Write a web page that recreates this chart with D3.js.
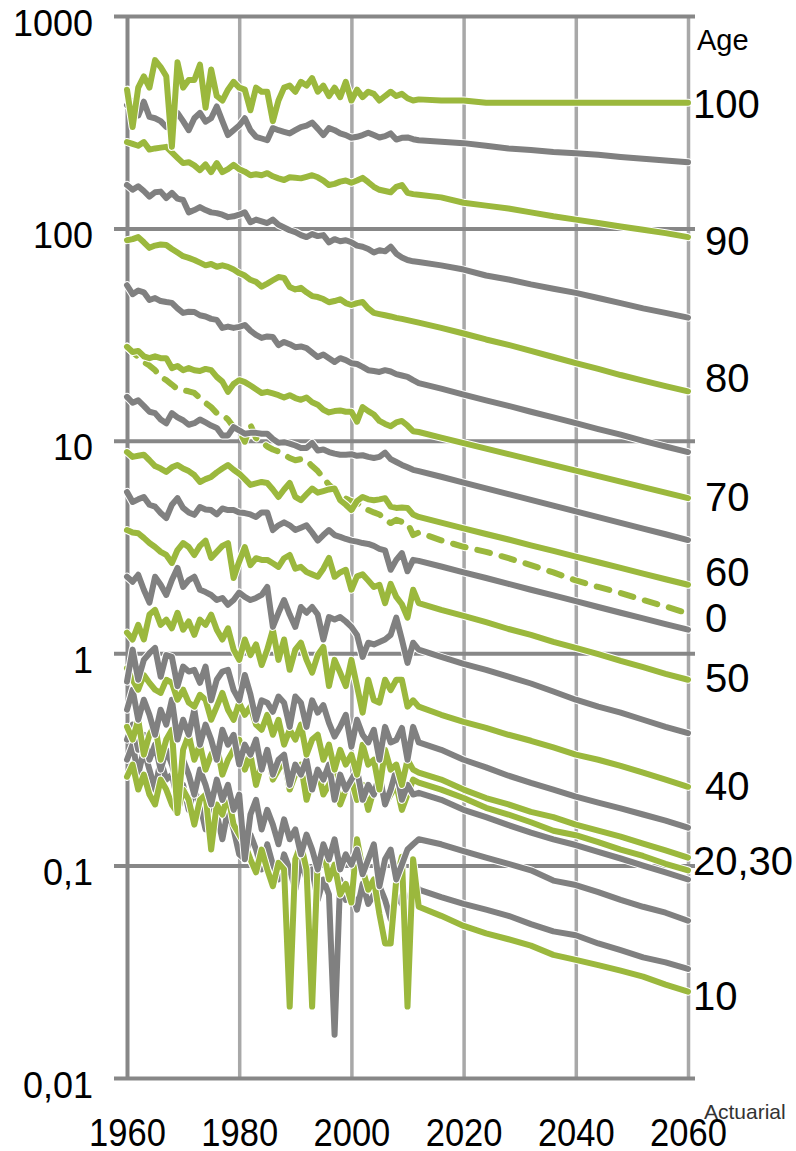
<!DOCTYPE html>
<html>
<head>
<meta charset="utf-8">
<script src="https://cdn.jsdelivr.net/npm/d3@7"></script>
<style>
  body { margin: 0; background: #fff; }
  svg { display: block; font-family: "Liberation Sans", Arial, sans-serif; }
</style>
</head>
<body>
<div id="chart"></div>
<script>
// observed years 1960-2012, then the projection every 4 years
const years = [
  1960, 1961, 1962, 1963, 1964, 1965, 1966, 1967, 1968, 1969,
  1970, 1971, 1972, 1973, 1974, 1975, 1976, 1977, 1978, 1979,
  1980, 1981, 1982, 1983, 1984, 1985, 1986, 1987, 1988, 1989,
  1990, 1991, 1992, 1993, 1994, 1995, 1996, 1997, 1998, 1999,
  2000, 2001, 2002, 2003, 2004, 2005, 2006, 2007, 2008, 2009,
  2010, 2011, 2012,
  2016, 2020, 2024, 2028, 2032, 2036, 2040, 2044, 2048, 2052, 2056, 2060
];

const yearTicks = [1960, 1980, 2000, 2020, 2040, 2060];
const yTicks = [0.01, 0.1, 1, 10, 100, 1000];
const yTickLabels = ["0,01", "0,1", "1", "10", "100", "1000"];

// mortality per 1000, by age
const age0 = [
  27.7, 26.2, 24.8, 23.5, 22.6, 21.5, 20, 19.3, 18.4, 17.5,
  17.3, 17.1, 16.8, 15.9, 15.1, 14.4, 13.5, 13.3, 12.6, 11.6,
  11.1, 9.9, 11.9, 10.3, 9.9, 9.4, 9.1, 8.9, 8.6, 8.3,
  8.1, 8.2, 8.1, 7.6, 7.2, 6.7, 6.2, 5.9, 5.6, 5.35,
  5.2, 5.1, 4.9, 4.72, 4.6, 4.5, 4.25, 4.1, 4.25, 4.15,
  4.1, 3.6, 3.7,
  3.4, 3.17, 3.0, 2.8, 2.6, 2.4, 2.2, 2.05, 1.92, 1.78, 1.66, 1.54
];
const age5 = [
  0.315, 0.371, 0.268, 0.351, 0.283, 0.228, 0.315, 0.254, 0.268, 0.204,
  0.24, 0.183, 0.228, 0.194, 0.148, 0.204, 0.174, 0.133, 0.183, 0.148,
  0.113, 0.107, 0.14, 0.119, 0.096, 0.126, 0.101, 0.086, 0.113, 0.096,
  0.0773, 0.107, 0.086, 0.096, 0.069, 0.086, 0.073, 0.016, 0.086, 0.069,
  0.077, 0.062, 0.082, 0.066, 0.073, 0.08, 0.069, 0.056, 0.073, 0.066,
  0.06, 0.086, 0.077,
  0.071, 0.066, 0.062, 0.058, 0.053, 0.049, 0.047, 0.043, 0.04, 0.037, 0.035, 0.0326
];
const age10 = [
  0.262, 0.299, 0.228, 0.268, 0.216, 0.194, 0.254, 0.228, 0.194, 0.177,
  0.228, 0.204, 0.156, 0.204, 0.216, 0.119, 0.194, 0.174, 0.216, 0.156,
  0.14, 0.126, 0.107, 0.093, 0.119, 0.096, 0.08, 0.103, 0.096, 0.0217,
  0.107, 0.126, 0.096, 0.0217, 0.107, 0.119, 0.086, 0.101, 0.073, 0.082,
  0.067, 0.133, 0.096, 0.077, 0.086, 0.059, 0.043, 0.043, 0.086, 0.11,
  0.0217, 0.107, 0.064,
  0.058, 0.052, 0.048, 0.045, 0.042, 0.038, 0.036, 0.034, 0.032, 0.03, 0.0275, 0.0255
];
const age15 = [
  0.392, 0.461, 0.351, 0.413, 0.315, 0.371, 0.283, 0.351, 0.299, 0.24,
  0.315, 0.268, 0.216, 0.283, 0.24, 0.194, 0.254, 0.204, 0.24, 0.183,
  0.216, 0.107, 0.174, 0.204, 0.148, 0.183, 0.156, 0.126, 0.165, 0.133,
  0.148, 0.113, 0.14, 0.119, 0.096, 0.126, 0.107, 0.133, 0.096, 0.113,
  0.101, 0.119, 0.091, 0.107, 0.126, 0.08, 0.107, 0.119, 0.086, 0.101,
  0.119, 0.126, 0.133,
  0.126, 0.117, 0.109, 0.102, 0.095, 0.085, 0.081, 0.075, 0.069, 0.064, 0.06, 0.055
];
const age20 = [
  0.45, 0.392, 0.486, 0.333, 0.413, 0.461, 0.315, 0.392, 0.436, 0.177,
  0.351, 0.413, 0.315, 0.371, 0.283, 0.333, 0.371, 0.268, 0.315, 0.351,
  0.392, 0.283, 0.333, 0.24, 0.299, 0.351, 0.254, 0.283, 0.315, 0.228,
  0.268, 0.299, 0.204, 0.254, 0.283, 0.216, 0.24, 0.268, 0.194, 0.228,
  0.254, 0.204, 0.24, 0.183, 0.228, 0.254, 0.194, 0.216, 0.24, 0.183,
  0.216, 0.254, 0.246,
  0.228, 0.208, 0.187, 0.174, 0.16, 0.146, 0.139, 0.129, 0.119, 0.111, 0.102, 0.095
];
const age25 = [
  0.542, 0.673, 0.486, 0.604, 0.513, 0.413, 0.542, 0.461, 0.604, 0.392,
  0.486, 0.413, 0.542, 0.371, 0.461, 0.392, 0.315, 0.436, 0.371, 0.413,
  0.299, 0.371, 0.333, 0.392, 0.283, 0.351, 0.268, 0.315, 0.333, 0.24,
  0.299, 0.268, 0.315, 0.228, 0.283, 0.254, 0.299, 0.204, 0.268, 0.228,
  0.254, 0.283, 0.204, 0.24, 0.216, 0.268, 0.194, 0.228, 0.283, 0.204,
  0.24, 0.216, 0.22,
  0.204, 0.183, 0.169, 0.155, 0.143, 0.133, 0.125, 0.116, 0.108, 0.1, 0.093, 0.086
];
const age30 = [
  0.85, 0.75, 0.673, 0.79, 0.725, 0.673, 0.65, 0.75, 0.725, 0.604,
  0.673, 0.585, 0.56, 0.637, 0.604, 0.486, 0.56, 0.65, 0.542, 0.486,
  0.585, 0.513, 0.56, 0.461, 0.436, 0.513, 0.413, 0.486, 0.371, 0.436,
  0.392, 0.461, 0.333, 0.392, 0.413, 0.315, 0.371, 0.283, 0.351, 0.299,
  0.333, 0.268, 0.371, 0.299, 0.315, 0.228, 0.351, 0.283, 0.299, 0.24,
  0.315, 0.283, 0.274,
  0.254, 0.228, 0.208, 0.194, 0.179, 0.169, 0.156, 0.146, 0.137, 0.127, 0.118, 0.109
];
const age35 = [
  0.735, 1.04, 0.75, 0.93, 1.0, 1.06, 0.775, 0.98, 0.96, 0.7,
  0.865, 0.82, 0.835, 0.725, 0.865, 0.6, 0.75, 0.82, 0.835, 0.67,
  0.6, 0.79, 0.64, 0.486, 0.6, 0.585, 0.53, 0.625, 0.585, 0.45,
  0.625, 0.585, 0.45, 0.6, 0.525, 0.57, 0.47, 0.405, 0.45, 0.513,
  0.363, 0.486, 0.413, 0.38, 0.436, 0.315, 0.45, 0.38, 0.39, 0.445,
  0.315, 0.45, 0.38,
  0.351, 0.315, 0.29, 0.265, 0.245, 0.228, 0.211, 0.198, 0.186, 0.174, 0.163, 0.151
];
const age40 = [
  1.25, 1.16, 1.36, 1.16, 1.52, 1.6, 1.36, 1.44, 1.31, 1.55,
  1.29, 1.41, 1.22, 1.44, 1.36, 1.52, 1.29, 1.16, 1.31, 1.04,
  0.93, 1.16, 0.98, 1.1, 0.88, 1.04, 1.29, 0.93, 1.16, 0.835,
  1.04, 1.12, 0.93, 0.81, 0.98, 1.07, 0.7, 0.93, 0.81, 0.7,
  0.93, 0.7, 0.525, 0.75, 0.6, 0.585, 0.75, 0.67, 0.75, 0.75,
  0.56, 0.6, 0.56,
  0.513, 0.475, 0.445, 0.413, 0.387, 0.36, 0.333, 0.315, 0.295, 0.274, 0.254, 0.235
];
const age45 = [
  2.29, 2.17, 2.34, 1.99, 1.73, 2.29, 2.1, 1.88, 2.21, 2.52,
  2.05, 2.21, 2.29, 1.99, 1.94, 1.88, 1.78, 1.82, 1.69, 1.78,
  1.93, 1.84, 1.78, 1.82, 1.88, 2.05, 1.33, 1.55, 1.78, 1.52,
  1.33, 1.65, 1.55, 1.65, 1.52, 1.16, 1.48, 1.44, 1.48, 1.41,
  1.33, 1.22, 0.96, 1.12, 1.1, 1.13, 1.16, 1.22, 1.47, 1.16,
  0.9, 1.12, 1.04,
  0.96, 0.89, 0.835, 0.775, 0.72, 0.66, 0.604, 0.56, 0.525, 0.486, 0.45, 0.42
];
const age50 = [
  3.8, 3.7, 3.67, 3.49, 3.3, 3.16, 3.0, 2.9, 2.66, 3.06,
  3.3, 3.16, 2.9, 3.2, 3.39, 2.81, 3.0, 3.2, 3.3, 2.26,
  2.7, 3.16, 2.6, 2.8, 2.75, 2.75, 2.65, 2.55, 2.8, 2.9,
  2.5, 2.55, 2.41, 2.35, 2.29, 2.5, 2.81, 2.29, 2.4, 2.47,
  1.99, 2.3, 2.35, 2.2, 2.05, 2.1, 1.72, 2.12, 1.84, 1.7,
  1.47, 1.99, 1.72,
  1.6, 1.5, 1.4, 1.3, 1.22, 1.13, 1.06, 0.99, 0.92, 0.86, 0.8, 0.75
];
const age55 = [
  5.74, 5.15, 5.3, 5.44, 5.0, 4.9, 4.57, 4.33, 5.0, 5.37,
  4.83, 4.6, 4.48, 4.88, 4.75, 4.72, 4.5, 4.8, 4.72, 4.72,
  4.6, 4.57, 4.5, 4.38, 4.6, 4.6, 3.8, 4.0, 4.13, 4.0,
  3.8, 3.9, 4.0, 3.7, 3.39, 3.6, 3.8, 3.6, 3.53, 3.45,
  3.39, 3.35, 3.3, 3.27, 3.2, 3.1, 3.05, 2.47, 2.75, 2.96,
  2.43, 2.75, 2.72,
  2.56, 2.4, 2.26, 2.12, 1.99, 1.87, 1.76, 1.65, 1.55, 1.46, 1.37, 1.29
];
const age60 = [
  8.85, 8.4, 8.5, 8.6, 8.1, 7.6, 7.4, 7.14, 7.5, 7.7,
  7.4, 7.2, 6.9, 6.4, 6.6, 6.76, 7.1, 7.4, 7.69, 7.3,
  7.0, 6.6, 6.2, 6.3, 6.4, 6.33, 5.9, 5.44, 5.9, 6.33,
  5.44, 5.25, 5.6, 5.96, 5.7, 5.8, 5.9, 5.96, 5.25, 5.0,
  4.72, 5.2, 5.44, 5.3, 5.25, 5.3, 5.37, 4.9, 4.83, 4.85,
  4.83, 4.5, 4.38,
  4.12, 3.87, 3.64, 3.43, 3.22, 3.03, 2.85, 2.68, 2.52, 2.37, 2.23, 2.1
];
const age65 = [
  16.1, 15.1, 15.5, 14.6, 13.7, 13.5, 12.6, 12.1, 13.5, 12.9,
  12.5, 11.9, 12.1, 12.6, 12.2, 11.8, 11.5, 10.6, 10.6, 11.6,
  11.2, 10.8, 10.9, 10.9, 10.8, 10.8, 10.2, 9.8, 9.85, 9.7,
  9.5, 9.25, 9.25, 9.77, 9.0, 9.1, 8.85, 8.7, 8.6, 8.6,
  8.65, 8.5, 8.55, 8.4, 8.3, 8.4, 8.8, 8.2, 7.95, 7.7,
  7.5, 7.3, 7.2,
  6.77, 6.36, 5.97, 5.61, 5.27, 4.95, 4.65, 4.37, 4.11, 3.86, 3.63, 3.41
];
const age70 = [
  27.7, 26.2, 26.5, 25, 24.5, 25, 24.5, 24.5, 22, 22.5,
  21.5, 22, 21.5, 21.3, 21.8, 21.5, 20, 19, 17, 18.5,
  19.3, 18.9, 18.2, 17.5, 16.8, 17, 16.7, 16.4, 16, 16.4,
  15.9, 15.6, 16, 15.2, 14.8, 14, 13.6, 13.8, 13.9, 13.7,
  13.7, 12.3, 14.4, 13.8, 13.3, 12.4, 12, 11.7, 12.2, 12.4,
  11.8, 11.1, 11,
  10.36, 9.76, 9.19, 8.66, 8.16, 7.68, 7.24, 6.82, 6.42, 6.05, 5.7, 5.37
];
const age75 = [
  54, 49, 51, 50, 46, 47, 45.5, 45, 44.6, 42,
  40, 40.5, 40.4, 39, 38.5, 37.5, 37.1, 34, 34.5, 34,
  34.4, 35.1, 33, 31.5, 30.5, 31, 30.8, 28.2, 29.2, 28.5,
  27.6, 27.8, 27.3, 26, 24.8, 25.5, 24.5, 23.5, 24.5, 24,
  23.2, 23, 22.3, 21.5, 21.3, 21.1, 21.5, 21.2, 20.6, 20.3,
  20, 19.3, 18.7,
  17.6, 16.5, 15.5, 14.6, 13.7, 12.9, 12.1, 11.35, 10.7, 10.0, 9.4, 8.85
];
const age80 = [
  88, 89, 91, 86, 81, 83, 84, 83.5, 80, 77,
  74, 72.6, 71, 69, 67, 68, 66, 67, 65.9, 64,
  61.6, 60, 57.3, 56, 53.2, 55, 57, 59, 58.5, 53,
  51.6, 52.5, 50, 48, 47.5, 46.5, 44.9, 45.5, 46.4, 44.5,
  43.6, 44.5, 45, 42, 40, 39.5, 39, 38.5, 37.9, 37.5,
  37, 36.5, 36,
  34, 32, 30, 28.3, 26.5, 24.8, 23.2, 21.8, 20.4, 19.2, 18.1, 17.1
];
const age85 = [
  160, 152, 158, 150, 141, 148, 149, 139, 147, 138,
  136, 119, 122, 126, 122, 119, 118, 116, 113, 114,
  116, 119, 107, 110, 108, 106, 110, 104, 101, 98,
  96, 93, 91, 94, 92, 93, 86, 89, 87, 88,
  86, 83, 82, 80, 77, 79, 78, 82, 76, 73,
  71, 70, 69.5,
  67, 64, 60, 57.5, 54.5, 52, 49.7, 47, 44.5, 42, 40, 38
];
const age90 = [
  255, 250, 245, 255, 235, 238, 240, 242, 228, 215,
  203, 205, 198, 188, 200, 184, 203, 184, 190, 199,
  190, 185, 178, 180, 178, 182, 176, 172, 169, 174,
  173, 172, 175, 178, 174, 168, 160, 162, 166, 168,
  164, 168, 173, 165, 157, 152, 150, 148, 157, 160,
  147, 145, 144,
  140, 132, 128, 124, 119, 114, 110, 106, 102, 98.5, 95, 91
];
const age95 = [
  380, 395, 340, 395, 335, 330, 320, 300, 315, 350,
  320, 290, 330, 350, 318, 330, 375, 320, 275, 290,
  305, 330, 290, 270, 265, 260, 297, 290, 285, 280,
  290, 300, 305, 315, 295, 275, 297, 290, 280, 275,
  267, 270, 275, 282, 275, 268, 272, 280, 262, 267,
  268, 263, 260,
  256, 252, 245, 238, 234, 229, 226, 222, 217, 213, 209, 205
];
const age100 = [
  450, 300, 460, 520, 460, 620, 575, 520, 242, 605,
  460, 500, 500, 590, 370, 560, 420, 400, 450, 490,
  460, 450, 360, 460, 440, 440, 320, 400, 460, 470,
  440, 490, 470, 510, 440, 470, 420, 460, 415, 490,
  400, 450, 415, 440, 430, 400, 420, 440, 420, 430,
  410, 400, 405,
  400, 400, 390, 390, 390, 390, 390, 390, 390, 390, 390, 390
];

const ages = [0, 5, 10, 15, 20, 25, 30, 35, 40, 45, 50, 55, 60, 65, 70, 75, 80, 85, 90, 95, 100];
const ageValues = [age0, age5, age10, age15, age20, age25, age30, age35, age40, age45,
  age50, age55, age60, age65, age70, age75, age80, age85, age90, age95, age100];

// labels on the right, and the mortality level each one sits at
const labelTexts = ["100", "90", "80", "70", "60", "0", "50", "40", "20,30", "10"];
const labelLevels = [385, 87.2, 19.8, 5.44, 2.41, 1.465, 0.764, 0.237, 0.106, 0.0243];

const green = "#9bb83d", gray = "#808080";

const width = 796, height = 1151;
const x = d3.scaleLinear().domain([1960, 2060]).range([127, 688]);
const y = d3.scaleLog().domain([0.01, 1000]).range([1078, 16]);

const svg = d3.select("#chart").append("svg")
  .attr("width", width)
  .attr("height", height);

// vertical grid + year labels
const xAxis = svg.append("g")
  .attr("transform", "translate(0,1078)")
  .call(d3.axisBottom(x).tickValues(yearTicks).tickSize(-1062).tickFormat(d3.format("d")))
  .call(g => g.select(".domain").remove())
  .attr("font-family", null)
  .attr("font-size", null);
xAxis.selectAll(".tick line").attr("stroke", "#a8a8a8").attr("stroke-width", 3.5);
xAxis.selectAll(".tick:first-of-type line").attr("stroke", "#878787").attr("stroke-width", 4);
xAxis.selectAll(".tick text")
  .attr("y", 68)
  .attr("dy", 0)
  .attr("fill", "#000")
  .attr("font-size", 39)
  .each(function() {
    const w = this.getComputedTextLength();
    d3.select(this).attr("textLength", w * 0.885).attr("lengthAdjust", "spacingAndGlyphs");
  });

// horizontal grid + log labels
const yAxis = svg.append("g")
  .attr("transform", "translate(114,0)")
  .call(d3.axisLeft(y).tickValues(yTicks).tickSize(-581).tickPadding(21)
    .tickFormat((d, i) => yTickLabels[i]))
  .call(g => g.select(".domain").remove())
  .attr("font-family", null)
  .attr("font-size", null);
yAxis.selectAll(".tick line").attr("stroke", "#878787").attr("stroke-width", 4);
yAxis.selectAll(".tick text")
  .attr("dy", "0.53em")
  .attr("fill", "#000")
  .attr("font-size", 36);

const line = d3.line()
  .x((d, i) => x(years[i]))
  .y(d => y(d));

// one line per age, white edge underneath
ages.forEach((age, idx) => {
  const color = age % 10 === 0 ? green : gray;
  const dash = age === 0 ? "13,12" : null;
  const g = svg.append("g").attr("class", "age-" + age);
  g.append("path")
    .datum(ageValues[idx])
    .attr("fill", "none")
    .attr("stroke", "#fff")
    .attr("stroke-width", 8)
    .attr("stroke-linejoin", "round")
    .attr("stroke-linecap", "round")
    .attr("stroke-dasharray", dash)
    .attr("d", line);
  g.append("path")
    .datum(ageValues[idx])
    .attr("fill", "none")
    .attr("stroke", color)
    .attr("stroke-width", 6)
    .attr("stroke-linejoin", "round")
    .attr("stroke-linecap", "round")
    .attr("stroke-dasharray", dash)
    .attr("d", line);
});

// age labels at the right end
svg.append("g")
  .selectAll("text")
  .data(labelTexts)
  .join("text")
  .attr("x", d => x(2060) + (d.length > 2 || d === "10" ? 5 : 17))
  .attr("y", (d, i) => y(labelLevels[i]))
  .attr("dy", "0.36em")
  .attr("font-size", 40)
  .attr("fill", "#000")
  .text(d => d);

svg.append("text")
  .attr("x", 697)
  .attr("y", 50)
  .attr("font-size", 29)
  .attr("fill", "#000")
  .text("Age");

svg.append("text")
  .attr("x", 704)
  .attr("y", 1119)
  .attr("font-size", 21)
  .attr("fill", "#333")
  .text("Actuarial");
</script>
</body>
</html>
